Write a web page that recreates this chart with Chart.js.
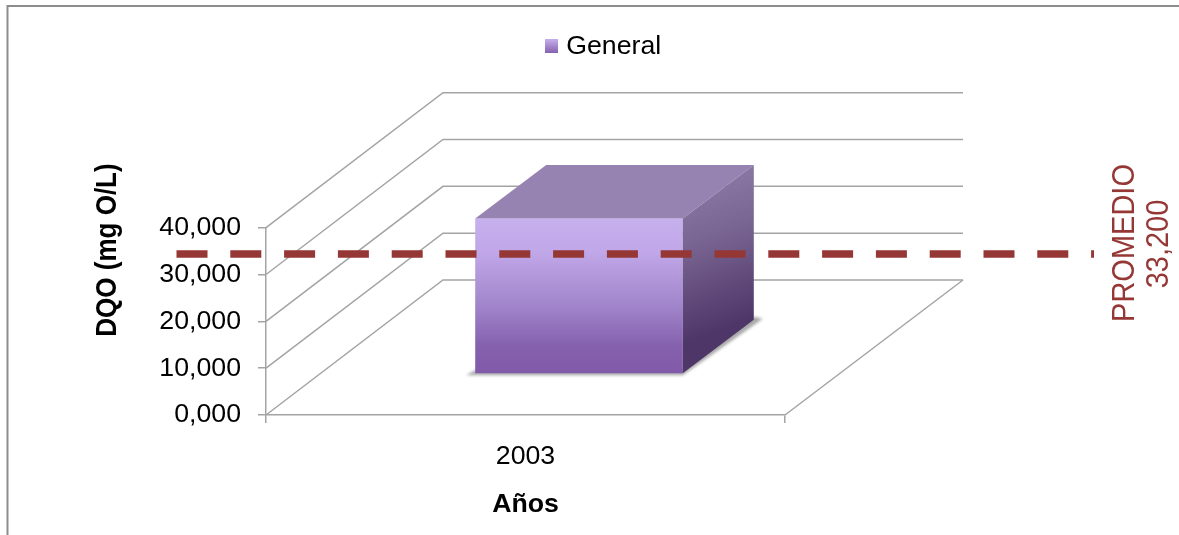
<!DOCTYPE html>
<html>
<head>
<meta charset="utf-8">
<title>DQO</title>
<script src="https://cdn.jsdelivr.net/npm/chart.js@4/dist/chart.umd.min.js"></script>
<style>
  html, body { margin: 0; padding: 0; background: #fff; overflow: hidden; }
  /* the reference is a soft upscaled image */
  canvas { display: block; filter: blur(0.45px); }
</style>
</head>
<body>
<canvas id="chart" width="1179" height="535"></canvas>
<script>
// Data
const categories = ['2003'];
const seriesName = 'General';
const generalValues = [33.2];
const promedioValue = 33.2;
const promedioLabels = ['PROMEDIO', '33,200'];
const yTickLabels = ['0,000', '10,000', '20,000', '30,000', '40,000'];
const yTitle = 'DQO (mg O/L)';
const xTitle = 'Años';

// Look of the fake 3D box
const FONT = '"Liberation Sans", Arial, sans-serif';
const GRID = '#a4a4a4';
const BROWN = '#953735';
const wallDepth = { x: 177, y: -135 };
const barShift = { x: 53.5, y: -41 };
const barDepth = { x: 71, y: -53.5 };

// Legend swatch
const swatch = document.createElement('canvas');
swatch.width = 13;
swatch.height = 14;
const swatchCtx = swatch.getContext('2d');
const swatchFill = swatchCtx.createLinearGradient(0, 0, 0, 14);
swatchFill.addColorStop(0, '#c6aeec');
swatchFill.addColorStop(1, '#8560ac');
swatchCtx.fillStyle = swatchFill;
swatchCtx.fillRect(0, 0, 13, 14);

function poly(ctx, pts) {
  ctx.beginPath();
  pts.forEach((p, i) => (i ? ctx.lineTo(p[0], p[1]) : ctx.moveTo(p[0], p[1])));
  ctx.closePath();
}

function upText(ctx, text, x, y, font, color) {
  ctx.save();
  ctx.translate(x, y);
  ctx.scale(1.1, 1);
  ctx.rotate(-Math.PI / 2);
  ctx.font = font;
  ctx.fillStyle = color;
  ctx.textAlign = 'center';
  ctx.textBaseline = 'middle';
  ctx.fillText(text, 0, 0);
  ctx.restore();
}

const box3d = {
  id: 'box3d',
  beforeDraw(chart) {
    // outer frame, only top and left are in the picture
    const ctx = chart.ctx;
    ctx.save();
    ctx.strokeStyle = '#8c8c8c';
    ctx.lineWidth = 2;
    ctx.beginPath();
    ctx.moveTo(7.5, 535);
    ctx.lineTo(7.5, 6);
    ctx.lineTo(1179, 6);
    ctx.stroke();
    ctx.restore();
  },
  beforeDatasetsDraw(chart) {
    const { ctx, chartArea: a, scales: { y } } = chart;
    ctx.save();
    ctx.strokeStyle = GRID;
    ctx.lineWidth = 1.5;
    y.ticks.forEach(t => {
      const py = y.getPixelForValue(t.value);
      ctx.beginPath();
      ctx.moveTo(a.left, py);
      ctx.lineTo(a.left + wallDepth.x, py + wallDepth.y);
      ctx.lineTo(a.right + wallDepth.x + 1, py + wallDepth.y);
      ctx.stroke();
    });
    // right edge of the floor
    ctx.beginPath();
    ctx.moveTo(a.right, a.bottom);
    ctx.lineTo(a.right + wallDepth.x + 1, a.bottom + wallDepth.y);
    ctx.stroke();
    ctx.restore();
  },
  beforeDatasetDraw(chart, args) {
    const ctx = chart.ctx;
    const bar = chart.getDatasetMeta(args.index).data[0];
    const l = bar.x - bar.width / 2 + barShift.x;
    const r = bar.x + bar.width / 2 + barShift.x;
    const b = bar.base + barShift.y;
    // soft shadow on the floor
    ctx.save();
    ctx.filter = 'blur(1.5px)';
    ctx.fillStyle = '#a8a8a8';
    poly(ctx, [[l - 9, b + 2], [r, b + 2], [r + barDepth.x + 9, b + barDepth.y - 1], [r + barDepth.x, b + barDepth.y - 3], [r, b - 3], [l, b - 3]]);
    ctx.fill();
    ctx.restore();
    ctx.save();
    ctx.translate(barShift.x, barShift.y);
  },
  afterDatasetDraw(chart, args) {
    const ctx = chart.ctx;
    ctx.restore();
    const bar = chart.getDatasetMeta(args.index).data[0];
    const l = bar.x - bar.width / 2 + barShift.x;
    const r = bar.x + bar.width / 2 + barShift.x;
    const t = bar.y + barShift.y;
    const b = bar.base + barShift.y;
    const d = barDepth;
    ctx.save();
    ctx.fillStyle = '#9683b1';
    poly(ctx, [[l, t], [r, t], [r + d.x, t + d.y], [l + d.x, t + d.y]]);
    ctx.fill();
    const side = ctx.createLinearGradient(r + 5, t - 30, r + d.x - 15, b - 50);
    side.addColorStop(0, '#8a77a4');
    side.addColorStop(0.35, '#7a6693');
    side.addColorStop(1, '#4f3669');
    ctx.fillStyle = side;
    poly(ctx, [[r, t], [r + d.x, t + d.y], [r + d.x, b + d.y], [r, b]]);
    ctx.fill();
    ctx.restore();
  },
  afterDatasetsDraw(chart) {
    const { ctx, chartArea: a, scales: { y } } = chart;
    const py = y.getPixelForValue(promedioValue) - 5.5;
    ctx.save();
    ctx.strokeStyle = BROWN;
    ctx.lineWidth = 7.5;
    ctx.setLineDash([31, 22.8]);
    ctx.beginPath();
    ctx.moveTo(a.left - 89.5, py);
    ctx.lineTo(a.right + 309, py);
    ctx.stroke();
    ctx.restore();
    upText(ctx, yTitle, 108, 250, 'bold 26px ' + FONT, '#000');
    upText(ctx, promedioLabels[0], 1125, 243, '29px ' + FONT, BROWN);
    upText(ctx, promedioLabels[1], 1159, 244, '29px ' + FONT, BROWN);
  }
};

new Chart(document.getElementById('chart'), {
  type: 'bar',
  data: {
    labels: categories,
    datasets: [{
      label: seriesName,
      data: generalValues,
      clip: false,
      categoryPercentage: 1,
      barPercentage: 0.4,
      backgroundColor(c) {
        const { chart } = c;
        if (!chart.chartArea) return '#a488cc';
        const y = chart.scales.y;
        const g = chart.ctx.createLinearGradient(0, y.getPixelForValue(generalValues[0]), 0, y.getPixelForValue(0));
        g.addColorStop(0, '#c7b0ee');
        g.addColorStop(0.22, '#c0a7e8');
        g.addColorStop(0.55, '#a286cc');
        g.addColorStop(0.82, '#8561ad');
        g.addColorStop(1, '#8159a9');
        return g;
      }
    }]
  },
  plugins: [box3d],
  options: {
    responsive: false,
    animation: false,
    layout: { padding: { left: 33, right: 0, top: 23, bottom: 0 } },
    plugins: {
      tooltip: { enabled: false },
      legend: {
        position: 'top',
        labels: {
          color: '#000',
          font: { family: FONT, size: 26.7 },
          padding: 10,
          usePointStyle: true,
          pointStyleWidth: 2,
          generateLabels: () => [{ text: seriesName, pointStyle: swatch, fontColor: '#000', lineWidth: 0, datasetIndex: 0 }]
        }
      }
    },
    scales: {
      x: {
        position: 'bottom',
        grid: { offset: true, drawOnChartArea: false, color: GRID, tickLength: 8, lineWidth: 1.5 },
        border: { color: GRID, width: 1.5 },
        ticks: { color: '#000', font: { family: FONT, size: 26.7 }, padding: 18, maxRotation: 0 },
        title: { display: true, text: xTitle, color: '#000', font: { family: FONT, size: 26.7, weight: 'bold' }, padding: { top: 0, bottom: 14 } },
        afterFit(s) { s.height = 120; }
      },
      y: {
        position: 'left',
        min: 0,
        max: 40,
        grid: { drawOnChartArea: false, color: GRID, tickLength: 8, lineWidth: 1.5 },
        border: { color: GRID, width: 1.5 },
        ticks: {
          stepSize: 10,
          color: '#000',
          font: { family: FONT, size: 26.7 },
          padding: 17,
          callback: (v, i) => yTickLabels[i]
        },
        afterFit(s) { s.width = 266 - 33; }
      },
      // empty axes, they only reserve the room around the plot
      padRight: {
        axis: 'y', position: 'right', display: true,
        grid: { display: false }, border: { display: false }, ticks: { display: false },
        afterFit(s) { s.width = 1179 - 785; }
      },
      padTop: {
        axis: 'x', position: 'top', display: true,
        grid: { display: false }, border: { display: false }, ticks: { display: false },
        afterFit(s) { s.height = 158; }
      }
    }
  }
});
</script>
</body>
</html>
